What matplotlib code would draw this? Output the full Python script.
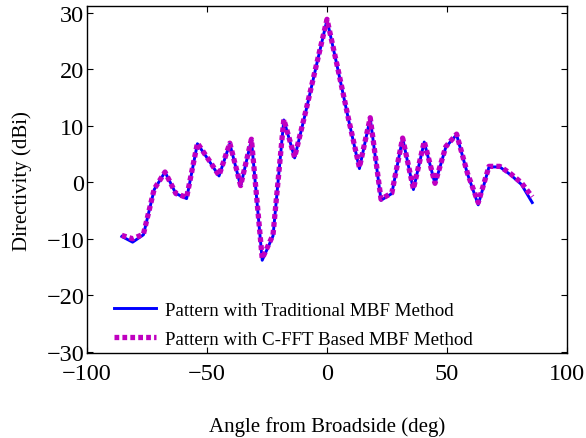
import numpy as np
import matplotlib
matplotlib.use('Agg')
import matplotlib.pyplot as plt

# sampled far-field directivity, 4.5 deg steps
angles = [-85.5, -81, -76.5, -72, -67.5, -63, -58.5, -54, -49.5, -45, -40.5, -36,
          -31.5, -27, -22.5, -18, -13.5, -9, -4.5, 0, 4.5, 9, 13.5, 18, 22.5, 27,
          31.5, 36, 40.5, 45, 49.5, 54, 58.5, 63, 67.5, 72, 76.5, 81, 85.5]

d_traditional = [-9.6, -10.6, -9.3, -1.3, 1.8, -2.0, -2.9, 6.8, 4.0, 1.1, 6.8, -0.7,
                 7.5, -13.8, -9.5, 11.0, 4.3, 12.2, 20.5, 28.7, 20.0, 11.0, 2.4, 11.3,
                 -3.2, -2.0, 7.8, -1.3, 7.1, -0.3, 6.2, 8.4, 1.5, -4.0, 2.7, 2.7,
                 1.3, -0.4, -3.6]

d_cfft = [-9.4, -10.0, -9.2, -1.2, 1.8, -2.0, -2.7, 6.9, 4.1, 1.2, 6.9, -0.6,
          7.6, -13.5, -9.3, 11.1, 4.4, 12.3, 20.6, 28.8, 20.1, 11.1, 2.6, 11.4,
          -3.0, -1.9, 7.8, -1.2, 7.2, -0.2, 6.3, 8.5, 1.6, -3.6, 2.8, 2.8,
          1.5, -0.1, -2.6]

plt.rcParams['font.family'] = ['Liberation Serif', 'DejaVu Serif']

fig = plt.figure(figsize=(5.86, 4.39), dpi=100)
ax = fig.add_axes([0.1485, 0.1936, 0.8191, 0.7898])

ax.plot(angles, d_traditional, color='#0000ff', lw=2.1,
        label='Pattern with Traditional MBF Method')
ax.plot(angles, d_cfft, color='#c000c0', lw=3.8, linestyle=(0, (0.9, 0.6)),
        dash_capstyle='butt', label='Pattern with C-FFT Based MBF Method')

ax.set_xlim(-100, 100)
ax.set_ylim(-30.2, 31.1)
ax.set_xticks([-100, -50, 0, 50, 100])
ax.set_yticks([-30, -20, -10, 0, 10, 20, 30])
ax.tick_params(direction='in', top=True, right=True, labelsize=17.5, length=4,
               width=0.8)
ax.tick_params(axis='x', pad=7)
ax.tick_params(axis='y', pad=2)
for s in ax.spines.values():
    s.set_linewidth(1.0)

ax.set_xlabel('Angle from Broadside (deg)', fontsize=15, labelpad=23)
ax.set_ylabel('Directivity (dBi)', fontsize=15, labelpad=10)

ax.legend(loc='lower left', frameon=False, fontsize=13.7, handlelength=2.2,
          handletextpad=0.5, borderaxespad=0.3, bbox_to_anchor=(0.028, -0.023),
          labelspacing=0.61)

fig.savefig('out.png', dpi=100)
